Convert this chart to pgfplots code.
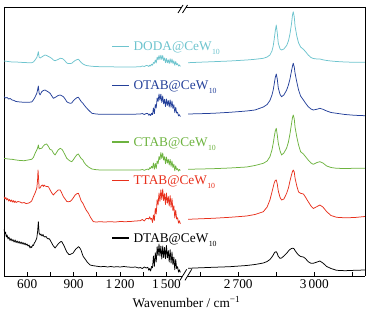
\documentclass[border=0pt]{standalone}
\usepackage{fontspec}
\setmainfont{Liberation Serif}
\usepackage{pgfplots}
\pgfplotsset{compat=1.18}
\definecolor{cDODA}{RGB}{110,196,206}
\definecolor{cOTAB}{RGB}{36,64,154}
\definecolor{cCTAB}{RGB}{109,179,63}
\definecolor{cTTAB}{RGB}{232,48,28}
\definecolor{cDTAB}{RGB}{0,0,0}
\newcommand{\sub}[1]{\kern0.5pt\raisebox{-4pt}{\fontsize{7.8}{8}\selectfont #1}}
\pgfplotsset{brk/.style={scale only axis, height=269pt, ymin=7, ymax=276, y dir=reverse,
  ytick=\empty, axis x line*=box, tick align=inside, xtick pos=bottom,
  major tick length=4pt, axis line style={line width=0.8pt},
  every tick/.style={line width=0.8pt, black},
  tick label style={font=\fontsize{13.3}{15}\selectfont},
  every axis plot/.append style={line width=0.75pt, line join=round, mark=none}}}
\begin{document}
\begin{tikzpicture}[x=1pt,y=1pt]
\path[use as bounding box] (0,0) rectangle (369,318);
% ---------------- left panel ----------------
\begin{axis}[brk, at={(4pt,42pt)}, anchor=south west, width=181pt,
  axis y line*=left, xmin=450, xmax=1620,
  xtick={600,750,900,1050,1200,1350,1500},
  xticklabels={600,,900,,1\,200,,1\,500}]
% DODA
\addplot[cDODA] coordinates {(450,61)(476,61.5)(502,62)(528,62)(554,62.3)(580,62.5)(605,62.7)(629,62.7)(640,62)(651,60)(662,57.5)(667,55)(672,51.7)(677,57)(683,58)(694,57)(704,56)(715,55)(726,55.5)(737,56.5)(748,57.3)(759,58.5)(769,60)(780,60.7)(800,59.5)(813,58.3)(826,58.5)(834,59.3)(845,61)(856,63)(864,63.5)(877,63.5)(888,63.3)(897,62)(910,60.5)(923,59.5)(931,59.3)(938,60.5)(949,62.5)(960,64)(981,65.5)(1018,66.3)(1072,66.7)(1136,66.8)(1201,67)(1266,67)(1331,66.8)(1344,66)(1357,66.5)(1369,65.5)
(1380,65.7)(1386,66.5)(1392,65.2)(1398,65.9)(1404,64.2)(1410,65.2)(1416,62.5)(1422,63.4)(1428,60)(1434,63)(1440,57.2)(1446,59.8)(1452,55.5)(1458,59.5)(1464,55.2)(1470,59.5)(1476,55.5)(1482,60.5)(1488,58)(1494,62.7)(1500,58.5)(1506,62.8)(1512,59.8)(1518,63.5)(1524,58.8)(1530,63)(1536,59)(1542,63.5)(1548,60.8)(1554,65.3)(1560,61.5)(1566,64.8)(1572,63.6)(1578,66)(1584,64.9)(1590,66.5)};
% OTAB
\addplot[cOTAB] coordinates {(450,96.7)(460,98)(470,97.5)(480,99)(490,98.5)(502,100)(515,100.5)(528,101.5)(554,102)(580,102.3)(605,102.3)(629,102)(640,100)(651,97)(662,93.3)(667,90)(672,86)(677,93)(683,95)(694,91.7)(704,90.5)(715,90)(726,91)(737,92)(748,93.3)(759,96)(769,98.3)(780,97.5)(800,95.5)(813,95)(826,96)(834,96.7)(845,99)(856,101.7)(864,102.5)(877,103.3)(888,103)(897,101)(910,99)(923,97.5)(931,97.3)(938,99)(949,101.5)(960,103.3)(968,105)(981,107.5)(996,110)(1018,113.3)(1046,114)(1072,114.3)(1136,114.3)(1201,114.3)(1266,114.3)(1331,114)(1344,113.5)(1357,114.5)(1369,113.5)
(1380,113.6)(1386,115.3)(1392,114.1)(1398,115.6)(1404,113.3)(1410,114.6)(1416,108)(1422,113.6)(1428,104.6)(1434,108)(1440,97.9)(1446,101.5)(1452,94)(1458,100.2)(1464,94.2)(1470,102.5)(1476,96)(1482,103.9)(1488,99.3)(1494,106.6)(1500,99)(1506,105.3)(1512,100.5)(1518,107)(1524,99.9)(1530,107.2)(1536,101)(1542,108.4)(1548,104.7)(1554,112.6)(1560,107.3)(1566,113)(1572,112.3)(1578,115.9)(1584,114.7)(1590,116.6)};
% CTAB
\addplot[cCTAB] coordinates {(450,158.3)(476,159)(502,159.3)(528,160)(554,160.5)(580,160.7)(605,160)(629,159.3)(640,157.5)(651,153.3)(662,150)(667,148)(672,145)(677,149)(683,148.5)(694,148.3)(704,146)(715,144.5)(726,144)(737,146.5)(748,149.5)(759,150)(769,153)(780,155)(800,150)(813,148.3)(826,149.5)(834,151.7)(845,155)(856,158.3)(864,159.5)(877,161)(888,161.7)(897,160)(910,157)(923,154.5)(931,154)(938,156)(949,158.5)(960,160)(968,162.5)(981,165)(996,167)(1018,169)(1046,169.7)(1072,170)(1136,170)(1201,170)(1266,170)(1331,170)(1344,169.5)(1357,170.3)(1369,169.5)
(1380,169.1)(1386,169.8)(1392,167.6)(1398,168.6)(1404,166.3)(1410,168.1)(1416,163)(1422,169.2)(1428,163.4)(1434,168.5)(1440,160.9)(1446,163.8)(1452,156.5)(1458,159.8)(1464,152.6)(1470,158.5)(1476,153)(1482,160.1)(1488,156.7)(1494,163.7)(1500,157)(1506,163)(1512,159.3)(1518,165)(1524,159.4)(1530,166.3)(1536,161)(1542,167.6)(1548,164.1)(1554,170.7)(1560,165.7)(1566,169.8)(1572,168.6)(1578,171.1)(1584,169.4)(1590,170.5)};
% TTAB
\addplot[cTTAB] coordinates {(450,196.7)(456,199)(462,197.5)(468,200)(474,198.5)(480,201)(486,199.5)(492,201.5)(498,200)(504,202)(510,200.5)(516,202.5)(522,201)(528,202.5)(540,201.5)(554,202)(566,203)(580,202.5)(592,203.5)(605,203.3)(617,202.5)(629,201)(640,196.7)(651,193)(662,188.3)(667,180)(670,170)(674,180)(677,188.3)(683,188)(690,186)(694,185.5)(700,185)(704,186.5)(710,185)(715,186)(726,186.5)(737,186.7)(748,190)(759,193)(769,195)(780,193)(790,191.5)(800,190)(813,190)(820,192)(826,194)(834,196.7)(845,199)(856,201.5)(864,201.7)(877,201.5)(888,200)(897,198)(910,195)(923,193.5)(931,193.3)(938,196)(949,201)(960,203.3)(968,206)(981,210)(996,213.3)(1008,217)(1018,219.5)(1028,221.7)(1046,222)(1072,221.7)(1100,222)(1136,221.7)(1170,222)(1201,221.5)(1233,221.7)(1266,221.5)(1300,221)(1331,220.7)(1344,219.5)(1357,221)(1369,218.5)
(1380,218.4)(1386,219)(1392,216.8)(1398,219.3)(1404,218.4)(1410,222.4)(1416,215)(1422,220.4)(1428,208.4)(1434,214)(1440,199.6)(1446,205)(1452,193)(1458,201.3)(1464,189.8)(1470,199.5)(1476,189)(1482,200.6)(1488,193.7)(1494,204.4)(1500,193)(1506,203.2)(1512,196.5)(1518,206)(1524,195.6)(1530,207.3)(1536,198.5)(1542,210.6)(1548,205.8)(1554,217.9)(1560,210.2)(1566,219)(1572,217.7)(1578,223.1)(1584,220.8)(1590,223.9)};
% DTAB
\addplot[cDTAB] coordinates {(450,229)(455,234)(460,232)(465,237)(470,235)(476,239)(482,237)(489,240.5)(495,238.5)(502,241)(508,239.5)(515,242)(522,240)(528,242.5)(535,241)(541,243)(548,241.5)(554,243.5)(561,242)(567,244)(573,242.5)(580,244.5)(586,243)(592,245)(599,244)(605,246)(612,245)(618,248)(624,246.5)(629,247.5)(635,245)(640,245.5)(646,243)(651,242)(657,240)(662,238)(667,232)(672,221.7)(677,233)(683,235)(688,234)(696,236)(702,234.5)(708,236.5)(715,237)(722,236.5)(728,238)(735,239)(741,238.5)(748,240)(755,242)(762,244)(769,246)(775,247)(780,248)(790,246)(800,244)(810,242.5)(818,241.5)(824,241.7)(830,243.5)(839,246)(847,249)(856,252)(864,253.5)(870,254.5)(877,254.5)(884,254)(890,253.5)(897,253)(905,251)(912,249.5)(918,248.5)(923,248)(931,246.7)(938,247.5)(944,249)(949,250.5)(956,254)(963,256.7)(972,258.5)(981,260.5)(990,262.5)(1000,264)(1007,265)(1020,265.5)(1040,266)(1072,266.7)(1100,266.5)(1120,267)(1140,266.5)(1160,267)(1180,266.7)(1201,267)(1225,266.5)(1250,267)(1280,267.3)(1300,267)(1320,268)(1331,267.5)(1344,268.5)(1357,267)(1369,268)
(1380,267.3)(1386,270.3)(1392,268.5)(1398,271)(1404,266.5)(1410,267.8)(1416,256)(1422,266.3)(1428,252.8)(1434,262)(1440,246.7)(1446,255.5)(1452,244)(1458,256.1)(1464,246.1)(1470,259)(1476,246)(1482,257.7)(1488,247.4)(1494,258.8)(1500,245.5)(1506,257.9)(1512,250.5)(1518,262)(1524,249.7)(1530,263.1)(1536,252)(1542,264.7)(1548,257.1)(1554,269.8)(1560,259.4)(1566,268.5)(1572,266.7)(1578,272.1)(1584,269.8)(1590,272.4)};
\end{axis}
% ---------------- right panel ----------------
\begin{axis}[brk, at={(185pt,42pt)}, anchor=south west, width=180pt,
  axis y line*=right, xmin=2490, xmax=3200,
  xtick={2550,2700,2850,3000,3150},
  xticklabels={,2\,700,,3\,000,}]
\addplot[cDODA] coordinates {(2502,62.7)(2549,62.2)(2600,61.7)(2667,61)(2733,60)(2766,59.3)(2799,58.3)(2814,57)(2825,55)(2833,51)(2838,46)(2842,39)(2846,31)(2850,25)(2854,33)(2858,43.3)(2865,49)(2871,50)(2880,49)(2891,45.5)(2898,41)(2904,34)(2910,24)(2914,15)(2917,11.7)(2921,17)(2924,26)(2931,36)(2938,43)(2946,47)(2957,49.3)(2965,51.5)(2976,55)(2987,57.5)(2996,58.5)(3011,59)(3022,59)(3034,59.8)(3049,60.5)(3066,61)(3088,61.5)(3121,62)(3160,62.3)(3200,62.3)};
\addplot[cOTAB] coordinates {(2502,114)(2549,113.7)(2600,113.3)(2667,112.3)(2733,111)(2766,110)(2799,107)(2814,104.5)(2825,100.5)(2833,95)(2838,90)(2842,84)(2846,77.5)(2850,74)(2854,79)(2858,88)(2865,94.5)(2871,96.7)(2880,95)(2891,90)(2898,85)(2904,79)(2910,71)(2914,66)(2917,63.3)(2921,67)(2924,73)(2931,82)(2938,90)(2946,96)(2957,100)(2965,103)(2976,106.7)(2987,109)(2996,110)(3011,109.2)(3022,108.3)(3034,109.3)(3049,111)(3066,112.5)(3088,113.3)(3121,114.5)(3160,115.3)(3200,115.7)};
\addplot[cCTAB] coordinates {(2502,169.3)(2549,169)(2600,168.7)(2667,168)(2733,167)(2766,165.5)(2799,163.3)(2814,161)(2825,156.7)(2833,150)(2838,143.3)(2842,137)(2846,131)(2850,128.3)(2854,135)(2858,143.3)(2865,151)(2871,155)(2880,153)(2891,148)(2898,142)(2904,134)(2910,124)(2914,117.5)(2917,115)(2921,119)(2924,127)(2931,137)(2938,145)(2946,151.7)(2957,154)(2965,156.5)(2976,160)(2987,163)(2996,164.3)(3011,162.5)(3022,161.7)(3034,163)(3049,166)(3066,167.5)(3088,168.3)(3121,168.5)(3160,168.3)(3200,168.3)};
\addplot[cTTAB] coordinates {(2502,219.3)(2549,218.8)(2600,218.3)(2667,217.3)(2733,216)(2766,214.5)(2799,211.7)(2814,207)(2825,200)(2833,192)(2838,187)(2842,183)(2846,180.5)(2850,180)(2854,184)(2858,191)(2865,197.5)(2871,200)(2880,199)(2891,193.3)(2898,188)(2904,181)(2910,175)(2914,171.5)(2917,170)(2921,172)(2924,178)(2931,186)(2938,192)(2946,193.3)(2957,194)(2965,197)(2976,201.7)(2987,206)(2996,208.5)(3011,206.5)(3022,205)(3034,207)(3049,211.7)(3066,215.5)(3088,217.3)(3121,217.8)(3160,217.5)(3200,216.5)};
\addplot[cDTAB] coordinates {(2502,268.3)(2549,267.8)(2600,267.3)(2667,266.7)(2733,265.5)(2766,264.5)(2799,263)(2814,261.5)(2825,259.5)(2833,257)(2838,255)(2842,253)(2846,252)(2850,251.7)(2854,253.5)(2858,256.5)(2865,258.3)(2871,258)(2880,256)(2891,253.3)(2898,251)(2904,249.5)(2910,248.5)(2914,248.3)(2917,248.3)(2921,249)(2924,250.5)(2931,253)(2938,255)(2946,256.5)(2957,257)(2965,258.5)(2976,261.7)(2987,263.3)(2996,263.3)(3011,262)(3022,261)(3034,263)(3049,266.5)(3066,268.5)(3088,270.3)(3121,270.7)(3160,270.3)(3200,270)};
\end{axis}
% break marks
\fill[white] (180,37.7) -- (186.7,48.7) -- (191.7,48.7) -- (185,37.7) -- cycle;
\draw[line width=0.8pt] (180,37.7) -- (186.7,48.7) (185,37.7) -- (191.7,48.7);
\fill[white] (178,305) -- (183,313) -- (187.5,313) -- (182.5,305) -- cycle;
\draw[line width=0.8pt] (178,305) -- (183,313) (182.5,305) -- (187.5,313);
% labels
\begin{scope}[font=\fontsize{13.3}{15}\selectfont, line width=1.2pt]
\draw[cDODA] (112,271.8) -- (129,271.8);
\node[anchor=base west, inner sep=0pt, text=cDODA] at (133,267.3) {DODA@CeW\sub{10}};
\draw[cOTAB] (112,232.5) -- (129,232.5);
\node[anchor=base west, inner sep=0pt, text=cOTAB] at (133,228) {OTAB@CeW\sub{10}};
\draw[cCTAB] (112,176) -- (129,176);
\node[anchor=base west, inner sep=0pt, text=cCTAB] at (133,171.3) {CTAB@CeW\sub{10}};
\draw[cTTAB] (112,137.7) -- (129,137.7);
\node[anchor=base west, inner sep=0pt, text=cTTAB] at (133,133) {TTAB@CeW\sub{10}};
\draw[cDTAB] (112,80) -- (129,80);
\node[anchor=base west, inner sep=0pt, text=cDTAB] at (133,75.3) {DTAB@CeW\sub{10}};
\node[anchor=base, inner sep=0pt] at (186.5,10.3) {Wavenumber / cm\textsuperscript{−1}};
\end{scope}
\end{tikzpicture}
\end{document}
